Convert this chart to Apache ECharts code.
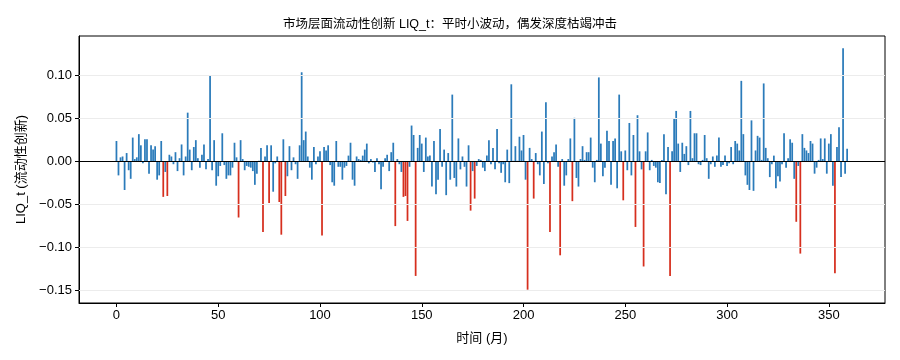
<!DOCTYPE html>
<html><head><meta charset="utf-8">
<script src="https://cdn.jsdelivr.net/npm/echarts@6/dist/echarts.min.js"></script>
<style>html,body{margin:0;padding:0;background:#fff}#c{width:900px;height:360px}</style>
</head><body><div id="c"></div>
<script>
// month index 0..359
const months = [];
for (let i = 0; i < 360; i++) months.push(i);

const liq = [
 0.024,-0.016,0.005,0.006,-0.033,0.010,-0.010,-0.020,0.028,0.003,
 0.005,0.032,0.019,-0.002,0.026,0.026,-0.014,0.019,0.014,0.018,
 -0.021,-0.016,0.024,-0.041,-0.012,-0.040,0.008,0.006,-0.003,0.011,
 -0.011,0.004,0.020,-0.016,0.006,0.057,0.014,-0.010,0.017,0.025,
 0.004,-0.007,0.008,0.020,-0.009,0.003,0.100,-0.010,0.025,-0.028,
 -0.017,-0.005,0.033,-0.004,-0.020,-0.016,-0.016,-0.007,0.022,0.005,
 -0.065,0.025,0.003,-0.010,-0.005,-0.006,-0.007,-0.011,-0.027,-0.014,
 0.001,0.016,-0.082,0.006,0.019,-0.048,0.019,-0.035,-0.002,0.006,
 -0.047,-0.085,0.026,-0.040,-0.017,0.018,-0.010,0.005,-0.003,-0.020,
 0.019,0.104,0.025,0.035,0.006,-0.007,-0.021,0.017,-0.003,0.006,
 0.012,-0.086,0.017,0.013,0.019,-0.004,-0.024,-0.028,0.024,-0.006,
 -0.006,-0.021,-0.007,-0.005,0.007,0.022,-0.021,-0.028,0.006,0.003,
 0.002,0.007,0.014,0.021,-0.002,0.003,-0.001,-0.012,0.004,-0.003,
 -0.032,-0.006,0.004,0.008,-0.011,0.011,0.022,-0.075,0.003,-0.003,
 -0.012,-0.041,-0.040,-0.069,-0.006,0.042,0.031,-0.133,0.016,0.031,
 0.021,-0.012,0.028,0.006,0.007,-0.029,0.024,-0.038,-0.021,0.038,
 -0.006,0.014,-0.039,0.010,-0.021,0.078,-0.019,-0.029,0.027,-0.009,
 0.006,-0.006,-0.029,0.019,-0.057,-0.011,-0.043,-0.005,0.003,0.002,
 -0.007,-0.011,0.007,0.025,-0.003,0.016,-0.009,0.038,-0.002,-0.013,
 -0.003,-0.024,0.014,-0.025,0.090,0.001,0.018,0.001,0.029,0.013,
 0.031,-0.021,-0.149,0.016,0.003,-0.043,0.010,-0.003,-0.016,0.035,
 -0.026,0.069,-0.002,-0.082,0.006,0.011,0.020,-0.006,-0.109,0.003,
 -0.028,-0.016,0.003,0.027,-0.046,0.051,-0.019,-0.029,0.003,0.018,
 0.002,0.011,0.011,0.028,-0.007,-0.024,0.002,0.098,0.021,-0.017,
 -0.007,0.036,0.024,-0.027,0.024,0.027,-0.031,0.078,0.012,-0.045,
 0.013,-0.010,0.045,-0.016,0.031,-0.076,0.054,0.012,-0.009,-0.122,
 0.012,0.034,-0.010,0.002,-0.005,-0.007,-0.024,-0.025,0.002,0.032,
 -0.038,0.017,-0.133,0.012,0.050,0.059,0.021,-0.012,0.022,0.009,
 0.018,-0.004,0.059,0.004,0.033,0.033,-0.003,-0.004,0.002,0.031,
 0.004,-0.020,-0.003,0.006,-0.006,0.007,0.028,-0.006,-0.004,0.007,
 -0.005,-0.002,0.017,-0.003,0.024,0.021,0.013,0.094,0.032,-0.016,
 -0.027,-0.033,0.048,-0.034,0.013,0.030,0.028,0.002,0.091,0.016,
 0.004,-0.018,-0.003,0.007,-0.031,-0.017,-0.023,-0.003,0.033,-0.007,
 0.004,0.026,0.022,-0.020,-0.070,-0.005,-0.107,0.032,0.016,0.013,
 0.010,0.024,0.021,-0.014,-0.007,0.002,0.027,0.003,0.027,-0.014,
 0.021,0.032,-0.028,-0.130,0.017,0.040,-0.018,0.132,-0.014,0.015
];

// months flagged as deep liquidity-drought shocks (drawn red)
const shockMonths = [23,25,60,72,75,80,81,83,101,137,141,142,143,147,174,176,202,205,213,218,224,249,255,259,272,334,336,353];

const xTicks = [0,50,100,150,200,250,300,350];
const yTicks = [-0.15,-0.10,-0.05,0.00,0.05,0.10];

const BLUE = '#2b7bba';
const RED = '#d62f1e';
const FONT = "'Liberation Sans','Noto Sans CJK SC',sans-serif";

const shockSet = new Set(shockMonths);
const barData = months.map((m, i) => ({
  value: [m, liq[i]],
  itemStyle: { color: shockSet.has(m) ? RED : BLUE }
}));

const fmtY = v => (v < 0 ? '\u2212' : '') + Math.abs(v).toFixed(2);

const chart = echarts.init(document.getElementById('c'), null, { renderer: 'canvas' });
chart.setOption({
  animation: false,
  backgroundColor: '#fff',
  title: {
    text: '市场层面流动性创新 LIQ_t：平时小波动，偶发深度枯竭冲击',
    left: 'center', top: 13,
    textStyle: { fontFamily: FONT, fontSize: 12.5, fontWeight: 'normal', color: '#000' }
  },
  grid: { left: 79, right: 15, top: 36, bottom: 57, show: true, borderColor: '#000', borderWidth: 1, backgroundColor: 'transparent' },
  xAxis: {
    type: 'value', min: -18.4, max: 377.6,
    axisLine: { show: true, onZero: false, lineStyle: { color: '#000', width: 1 } },
    axisTick: { show: true, customValues: xTicks, length: 4, lineStyle: { color: '#000' } },
    axisLabel: { customValues: xTicks, fontFamily: FONT, fontSize: 13, color: '#000', margin: 6 },
    splitLine: { show: false },
    name: '时间 (月)', nameLocation: 'middle', nameGap: 29,
    nameTextStyle: { fontFamily: FONT, fontSize: 13, color: '#000' }
  },
  yAxis: {
    type: 'value', min: -0.1645, max: 0.1462,
    axisLine: { show: true, onZero: false, lineStyle: { color: '#000', width: 1 } },
    axisTick: { show: true, customValues: yTicks, length: 4, lineStyle: { color: '#000' } },
    axisLabel: { customValues: yTicks, formatter: fmtY, fontFamily: FONT, fontSize: 13, color: '#000', margin: 7 },
    splitLine: { show: false },
    name: 'LIQ_t (流动性创新)', nameLocation: 'middle', nameGap: 51, nameRotate: 90,
    nameTextStyle: { fontFamily: FONT, fontSize: 13, color: '#000' }
  },
  series: [
    {
      type: 'line', data: [], z: 0, silent: true,
      markLine: {
        silent: true, symbol: 'none', animation: false,
        label: { show: false },
        data: yTicks.filter(t => t !== 0).map(t => ({ yAxis: t, lineStyle: { color: '#ececec', width: 1, type: 'solid' } }))
      }
    },
    {
      type: 'bar', data: barData, barWidth: 1.75, z: 2, silent: true,
      markLine: {
        silent: true, symbol: 'none', animation: false,
        label: { show: false },
        data: [{ yAxis: 0, lineStyle: { color: '#000', width: 1, type: 'solid' } }]
      }
    }
  ]
});
</script>
</body></html>
